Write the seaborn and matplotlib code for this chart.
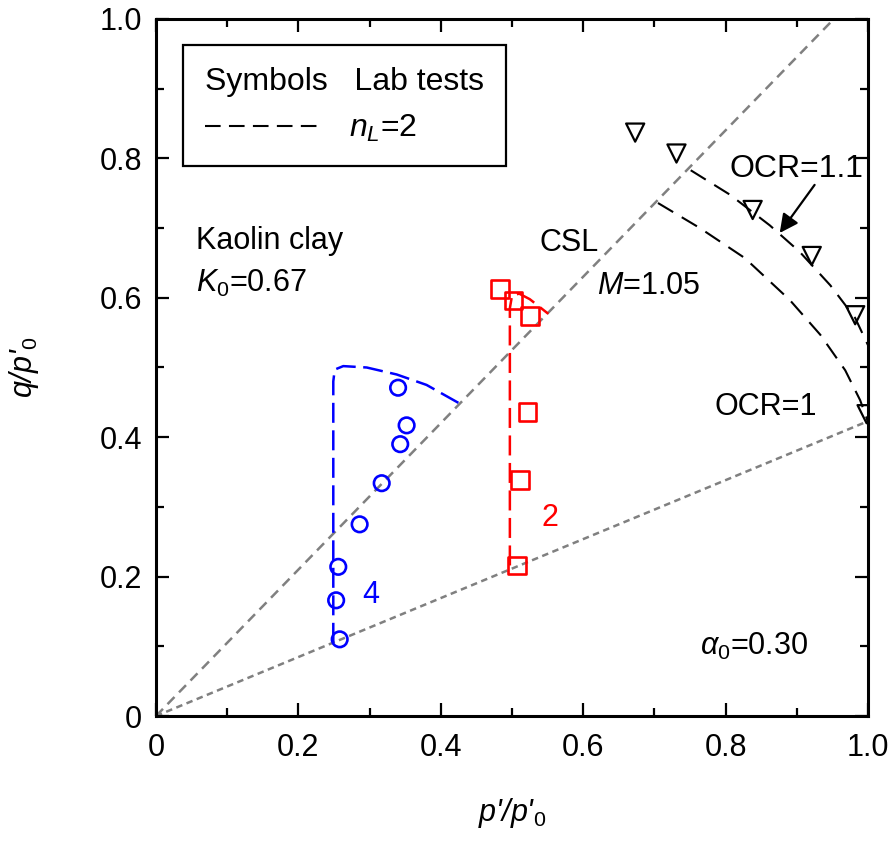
import numpy as np
import pandas as pd
import matplotlib
matplotlib.use("Agg")
import matplotlib.pyplot as plt
import seaborn as sns
from matplotlib.lines import Line2D

# ---------------- data ----------------
csl_p = [0.0, 0.952]
csl_q = [0.0, 1.0]
k0_p = [0.0, 1.0]
k0_q = [0.0, 0.423]

ocr1_p = [0.705, 0.764, 0.827, 0.890, 0.933, 0.968, 0.989, 1.0]
ocr1_q = [0.736, 0.700, 0.657, 0.597, 0.547, 0.496, 0.453, 0.422]

ocr11_p = [0.751, 0.806, 0.862, 0.904, 0.947, 0.982, 1.0]
ocr11_q = [0.783, 0.748, 0.704, 0.666, 0.618, 0.571, 0.532]

lab_p = [0.673, 0.731, 0.838, 0.921, 0.982, 0.998]
lab_q = [0.837, 0.807, 0.726, 0.660, 0.575, 0.433]

test2_p = [0.483, 0.502, 0.525, 0.522, 0.511, 0.507]
test2_q = [0.613, 0.596, 0.574, 0.436, 0.339, 0.216]
path2_p = [0.497, 0.497, 0.500, 0.510, 0.525, 0.551]
path2_q = [0.216, 0.585, 0.603, 0.606, 0.598, 0.577]

test4_p = [0.340, 0.352, 0.343, 0.317, 0.286, 0.256, 0.253, 0.258]
test4_q = [0.471, 0.417, 0.390, 0.334, 0.275, 0.214, 0.166, 0.110]
path4_p = [0.249, 0.249, 0.251, 0.263, 0.296, 0.338, 0.380, 0.427]
path4_q = [0.105, 0.480, 0.497, 0.502, 0.500, 0.490, 0.475, 0.448]

tick_vals = [0.0, 0.2, 0.4, 0.6, 0.8, 1.0]
tick_labels = ["0", "0.2", "0.4", "0.6", "0.8", "1.0"]

# ---------------- style ----------------
sns.set_theme(style="ticks")
plt.rcParams["font.family"] = ["Liberation Sans", "DejaVu Sans"]
plt.rcParams["mathtext.fontset"] = "custom"
plt.rcParams["mathtext.rm"] = "Liberation Sans"
plt.rcParams["mathtext.it"] = "Liberation Sans:italic"
plt.rcParams["mathtext.bf"] = "Liberation Sans:bold"
plt.rcParams["text.color"] = "black"
plt.rcParams["axes.labelcolor"] = "black"

FS = 22
fig = plt.figure(figsize=(8.95, 8.43), dpi=100)
ax = fig.add_axes([156 / 895, (843 - 716) / 843, 712 / 895, 697 / 843])

GRAY = "#808080"

def line(p, q, color, lw, dashes):
    df = pd.DataFrame({"p": p, "q": q})
    sns.lineplot(data=df, x="p", y="q", sort=False, estimator=None, ax=ax,
                 color=color, lw=lw, dashes=False, linestyle=(0, dashes))

line(csl_p, csl_q, GRAY, 1.8, (4.0, 2.6))
line(k0_p, k0_q, GRAY, 1.8, (2.6, 1.8))
line(ocr1_p, ocr1_q, "black", 1.5, (8.5, 4.8))
line(ocr11_p, ocr11_q, "black", 1.5, (8.5, 4.8))
line(path2_p, path2_q, "red", 1.8, (8.0, 3.0))
line(path4_p, path4_q, "blue", 1.8, (8.0, 3.0))

sns.scatterplot(x=test4_p, y=test4_q, marker="o", s=125, facecolor="none",
                edgecolor="blue", linewidth=1.9, ax=ax, zorder=3)
sns.scatterplot(x=test2_p, y=test2_q, marker="s", s=160, facecolor="none",
                edgecolor="red", linewidth=1.9, ax=ax, zorder=3)
sns.scatterplot(x=lab_p, y=lab_q, marker="v", s=170, facecolor="none",
                edgecolor="black", linewidth=1.6, ax=ax, zorder=3)

# ---------------- axes ----------------
ax.set_xlim(0, 1)
ax.set_ylim(0, 1)
ax.set_xticks(tick_vals)
ax.set_xticklabels(tick_labels)
ax.set_yticks(tick_vals)
ax.set_yticklabels(tick_labels)
ax.set_xticks(np.arange(0.1, 1.0, 0.2), minor=True)
ax.set_yticks(np.arange(0.1, 1.0, 0.2), minor=True)
ax.tick_params(which="both", direction="in", top=True, right=True,
               labelsize=22, width=1.6, color="black", labelcolor="black")
ax.tick_params(which="major", length=9.5)
ax.tick_params(axis="x", which="major", pad=12)
ax.tick_params(axis="y", which="major", pad=10)
ax.tick_params(which="minor", length=5.5)
for s in ax.spines.values():
    s.set_linewidth(2.2)
    s.set_color("black")
    s.set_zorder(5)

ax.set_xlabel(r"$p$'/$p$'$_{\mathrm{0}}$", fontsize=22, labelpad=24,
              fontstyle="italic")
ax.set_ylabel(r"$q$/$p$'$_{\mathrm{0}}$", fontsize=22, labelpad=42,
              fontstyle="italic")

# ---------------- annotations ----------------
ax.text(0.056, 0.670, "Kaolin clay", fontsize=FS, va="baseline")
ax.text(0.056, 0.609, r"$K_{\mathrm{0}}$=0.67", fontsize=FS, va="baseline")
ax.text(0.539, 0.667, "CSL", fontsize=FS, va="baseline")
ax.text(0.619, 0.605, r"$M$=1.05", fontsize=FS, va="baseline")
ax.text(0.806, 0.774, "OCR=1.1", fontsize=FS + 1, va="baseline", clip_on=True)
ax.text(0.784, 0.432, "OCR=1", fontsize=FS, va="baseline")
ax.text(0.764, 0.088, r"$\alpha_{\mathrm{0}}$=0.30", fontsize=FS, va="baseline")
ax.text(0.553, 0.272, "2", fontsize=FS, va="baseline", ha="center", color="red")
ax.text(0.301, 0.162, "4", fontsize=FS, va="baseline", ha="center", color="blue")

ax.annotate("", xy=(0.876, 0.693), xytext=(0.925, 0.762),
            arrowprops=dict(arrowstyle="-|>", color="black", lw=1.6,
                            mutation_scale=28, shrinkA=0, shrinkB=0))

# ---------------- legend ----------------
LFS = 23
h = Line2D([], [], color="black", lw=1.5, linestyle=(0, (7.5, 4.0)))
leg = ax.legend([h], [r"$n_L$=2"], title="Symbols   Lab tests",
                loc="upper left", bbox_to_anchor=(0.038, 0.963),
                borderaxespad=0, fontsize=LFS, title_fontsize=LFS,
                frameon=True, fancybox=False, edgecolor="black",
                framealpha=1, handlelength=3.6, handletextpad=0.9,
                borderpad=0.68, labelspacing=0.3)
leg._legend_box.align = "left"
leg._legend_box.sep = 12
leg.get_frame().set_linewidth(1.6)

fig.savefig("out.png", dpi=100)
